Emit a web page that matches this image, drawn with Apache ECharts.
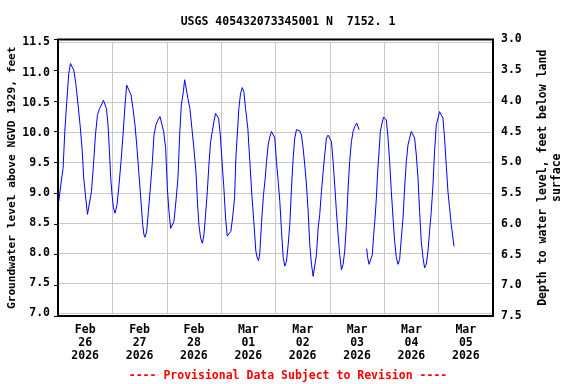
<!DOCTYPE html>
<html>
<head>
<meta charset="utf-8">
<script src="https://cdn.jsdelivr.net/npm/echarts@6/dist/echarts.min.js"></script>
<style>html,body{margin:0;padding:0;background:#fff}#c{width:576px;height:384px}</style>
</head>
<body>
<div id="c"></div>
<script>
// Hours since 2026-02-26 00:00 (null level marks a data gap)
const hours = [0.35,1.23,2.25,3.00,3.88,4.76,5.51,6.21,6.96,7.85,8.86,9.74,10.62,11.37,12.25,13.00,13.71,14.77,15.65,16.53,17.41,18.29,19.17,20.06,20.63,21.38,22.08,22.70,23.27,23.85,24.46,25.17,26.05,26.93,27.81,28.69,29.58,30.33,30.90,32.22,33.10,33.98,34.87,35.75,36.63,37.38,37.95,38.39,39.14,39.89,40.77,41.65,42.36,43.24,44.12,45.00,45.75,46.63,47.52,48.26,48.97,49.72,50.47,51.17,52.05,52.94,53.69,54.44,55.32,55.89,56.64,57.34,58.23,59.11,59.99,60.87,61.62,62.19,62.94,63.69,64.40,65.15,65.90,66.60,67.35,68.10,68.80,69.55,70.30,70.88,71.63,72.51,73.21,73.96,74.71,75.42,76.30,77.05,77.93,78.50,79.12,79.82,80.57,81.32,82.03,82.78,83.79,84.67,85.55,86.43,87.32,87.93,88.51,89.08,89.83,90.71,91.46,92.03,92.78,93.49,94.24,94.99,95.69,96.44,97.19,97.90,98.65,99.40,100.10,100.85,101.60,102.31,103.05,103.80,104.51,105.26,106.01,106.71,107.46,108.21,108.92,109.67,110.41,111.12,111.87,112.62,113.32,114.07,114.82,115.53,116.28,117.03,117.73,118.48,119.23,119.93,120.68,121.43,122.14,122.89,123.64,124.34,125.09,125.84,126.55,127.30,128.05,128.75,129.50,130.25,130.95,131.83,132.58,132.89,134.5,136.24,136.68,137.30,138.18,138.75,139.33,139.94,140.52,141.09,141.71,142.28,143.03,143.74,144.35,144.93,145.68,146.38,147.13,147.88,148.59,149.34,150.08,150.79,151.54,152.29,152.99,153.74,154.49,155.20,155.94,156.69,157.40,158.15,158.90,159.60,160.35,161.10,161.81,162.55,163.30,164.01,164.76,165.51,166.21,166.96,167.71,168.42,169.17,169.92,170.62,171.37,172.12,172.83,173.58,174.33,174.77];
const levels = [8.86,9.13,9.41,10.02,10.52,10.99,11.15,11.17,11.04,10.82,10.46,10.13,9.74,9.24,8.91,8.64,8.64,9.02,9.46,9.96,10.29,10.40,10.46,10.54,10.52,10.40,10.13,9.69,9.24,8.97,8.75,8.66,8.80,9.13,9.52,9.96,10.46,10.79,10.82,10.63,10.40,10.13,9.74,9.30,8.86,8.47,8.30,8.26,8.36,8.69,9.08,9.52,9.96,10.13,10.21,10.27,10.24,10.02,9.74,9.08,8.69,8.41,8.42,8.52,8.86,9.24,9.96,10.46,10.68,10.88,10.85,10.57,10.40,10.07,9.74,9.35,8.80,8.47,8.25,8.16,8.30,8.64,9.02,9.46,9.85,10.02,10.18,10.32,10.35,10.24,9.96,9.46,9.08,8.58,8.28,8.25,8.36,8.58,8.91,9.57,9.96,10.40,10.65,10.75,10.68,10.40,10.07,9.52,8.97,8.52,8.03,7.92,7.87,8.00,8.50,8.97,9.24,9.52,9.80,9.93,10.02,10.05,9.91,9.52,9.19,8.86,8.36,7.92,7.78,7.86,8.14,8.47,9.08,9.58,9.91,10.05,10.06,10.03,9.96,9.74,9.46,9.13,8.69,8.14,7.81,7.61,7.63,7.97,8.41,8.64,9.02,9.35,9.63,9.91,9.96,9.97,9.85,9.52,9.13,8.69,8.30,7.97,7.72,7.81,8.03,8.47,9.08,9.52,9.85,10.02,10.10,10.16,10.13,10.05,null,8.07,7.92,7.81,7.81,7.97,8.30,8.58,8.91,9.35,9.69,10.02,10.16,10.26,10.28,10.21,9.91,9.52,9.02,8.58,8.19,7.92,7.81,7.89,8.25,8.58,9.08,9.52,9.80,9.91,10.02,10.05,9.91,9.63,9.24,8.69,8.19,7.92,7.75,7.81,8.03,8.36,8.69,9.13,9.69,10.13,10.24,10.35,10.38,10.24,9.91,9.46,9.02,8.75,8.47,8.25,8.11];
const dayStartHours = [0,24,48,72,96,120,144,168,192];
const dayLabelHours = [12,36,60,84,108,132,156,180];
const leftTicks = [7.0,7.5,8.0,8.5,9.0,9.5,10.0,10.5,11.0,11.5];
const rightTicks = [3.0,3.5,4.0,4.5,5.0,5.5,6.0,6.5,7.0,7.5];
const titleText = 'USGS 405432073345001 N  7152. 1';
const leftName = 'Groundwater level above NGVD 1929, feet';
const rightName = 'Depth to water level, feet below land\nsurface';
const footerText = '---- Provisional Data Subject to Revision ----';
const months = ['Jan','Feb','Mar','Apr','May','Jun','Jul','Aug','Sep','Oct','Nov','Dec'];
const baseMs = Date.UTC(2026,1,26);

const seriesData = hours.map((h,i)=>[h, levels[i]]);
const FONT = 'DejaVu Sans Mono';
const txt = {fontFamily: FONT, fontWeight: 'bold', fontSize: 11.5, color: '#000'};

const chart = echarts.init(document.getElementById('c'), null, {renderer:'canvas'});
chart.setOption({
  animation: false,
  backgroundColor: '#fff',
  title: [
    {text: titleText, left: 'center', top: 11, textStyle: Object.assign({}, txt)},
    {text: footerText, left: 'center', top: 365, textStyle: Object.assign({}, txt, {color: '#ff0000'})}
  ],
  grid: [
    {left: 58, right: 83, top: 42.5, bottom: 71, show: false, containLabel: false, outerBoundsMode: 'none'},
    {left: 58, right: 83, top: 39.5, bottom: 68, show: true, borderColor: '#000', borderWidth: 2, backgroundColor: 'transparent', z: 5, containLabel: false, outerBoundsMode: 'none'}
  ],
  xAxis: [
    {type: 'value', gridIndex: 0, min: dayStartHours[0], max: dayStartHours[dayStartHours.length-1], interval: 24,
     axisLine: {show: false}, axisTick: {show: false},
     splitLine: {show: true, lineStyle: {color: '#c8c8c8', width: 1}},
     axisLabel: {show: true, customValues: dayLabelHours, margin: 11, lineHeight: 13, ...txt,
       formatter: function(v){ const d = new Date(baseMs + v*3600e3); const dd = String(d.getUTCDate()).padStart(2,'0'); return months[d.getUTCMonth()] + '\n' + dd + '\n' + d.getUTCFullYear(); }}},
    {type: 'value', gridIndex: 1, min: 0, max: 192, show: false}
  ],
  yAxis: [
    {type: 'value', gridIndex: 0, min: leftTicks[0], max: leftTicks[leftTicks.length-1], interval: 0.5,
     axisLine: {show: false}, axisTick: {show: false},
     splitLine: {show: true, lineStyle: {color: '#c8c8c8', width: 1}},
     axisLabel: {margin: 8, ...txt, formatter: v => v.toFixed(1)},
     name: leftName, nameLocation: 'middle', nameRotate: 90, nameGap: 40, nameMoveOverlap: false,
     nameTextStyle: {...txt, fontSize: 11.2}},
    {type: 'value', gridIndex: 1, position: 'right', min: rightTicks[0], max: rightTicks[rightTicks.length-1], interval: 0.5, inverse: true,
     axisLine: {show: false}, axisTick: {show: true, inside: true, length: 4, lineStyle: {color: '#000', width: 1}},
     splitLine: {show: false},
     axisLabel: {margin: 8, ...txt, formatter: v => v.toFixed(1)},
     name: rightName, nameLocation: 'middle', nameRotate: 90, nameGap: 43,
     nameTextStyle: {...txt, lineHeight: 14, align: 'center'}}
  ],
  series: [{
    type: 'line', xAxisIndex: 0, yAxisIndex: 0, data: seriesData, showSymbol: false, connectNulls: false,
    lineStyle: {color: '#0000ff', width: 1}, z: 3
  }]
});
</script>
</body>
</html>
